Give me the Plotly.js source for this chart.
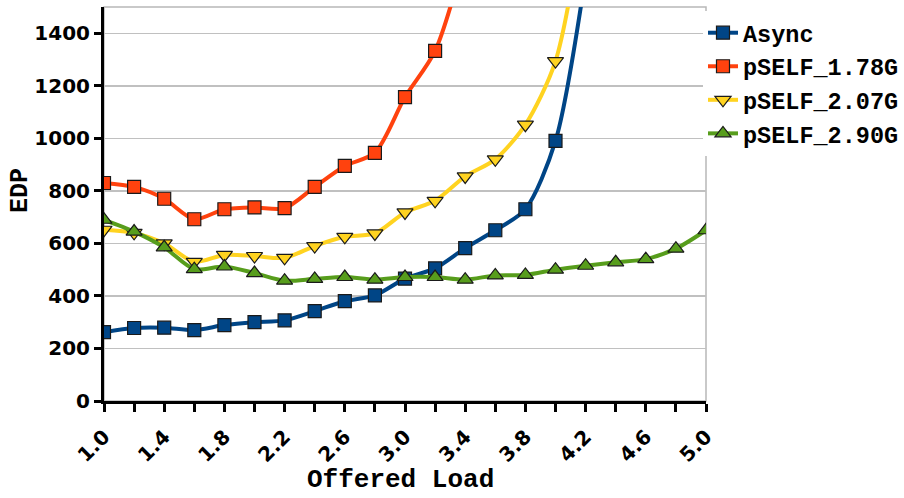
<!DOCTYPE html>
<html>
<head>
<meta charset="utf-8">
<script src="https://cdn.plot.ly/plotly-3.0.1.min.js"></script>
<style>html,body{margin:0;padding:0;background:#fff;}#chart{width:904px;height:498px;}</style>
</head>
<body>
<div id="chart"></div>
<script>
var load = [1.0,1.2,1.4,1.6,1.8,2.0,2.2,2.4,2.6,2.8,3.0,3.2,3.4,3.6,3.8,4.0,4.2,4.4,4.6,4.8,5.0];
var async = [262,278,279,270,289,300,307,342,380,402,466,505,582,650,730,990,1620];
var pself178 = [830,815,770,692,730,737,734,815,895,945,1157,1333,1700];
var pself207 = [652,640,600,530,556,552,545,590,625,638,718,762,855,920,1052,1294,1900];
var pself290 = [690,645,585,502,512,487,458,465,472,462,472,472,462,478,480,500,515,528,540,580,650];
var names = ['Async','pSELF_1.78G','pSELF_2.07G','pSELF_2.90G'];
var colors = ['#004586','#ff420e','#ffd320','#579d1c'];
var symbols = ['square','square','triangle-down','triangle-up'];
var series = [async, pself178, pself207, pself290];

var traces = series.map(function(s,i){
  return {
    x: load.slice(0, s.length), y: s, name: names[i], type:'scatter', mode:'lines+markers',
    line:{color:colors[i], width:4, shape:'spline', smoothing:0.8},
    marker:{symbol:symbols[i], size: symbols[i]==='square'?13:14, color:colors[i], line:{color:'#1a1a1a', width:1.2}}
  };
});

var tickFont = {family:'DejaVu Sans', size:20, color:'#000', weight:'bold'};
var titleFont = {family:'Liberation Mono', size:25, color:'#000', weight:'bold'};
var layout = {
  width:904, height:498,
  margin:{l:104, r:198, t:7, b:97, autoexpand:false},
  paper_bgcolor:'#fff', plot_bgcolor:'#fff',
  showlegend:true,
  legend:{x:0.995, xanchor:'left', y:0.99, yanchor:'top', font:{family:'Liberation Mono', size:23.5, color:'#000', weight:'bold'}, itemwidth:30, tracegroupgap:0},
  xaxis:{range:[1,5], tick0:1, dtick:0.4, tickformat:'.1f', tickangle:-45, ticks:'outside', ticklen:8, tickwidth:3, tickcolor:'#000',
    showline:true, linecolor:'#000', linewidth:3, showgrid:false, zeroline:false, tickfont:tickFont, ticklabelstandoff:5,
    minor:{dtick:0.2, tick0:1, ticks:'outside', ticklen:8, tickwidth:3, tickcolor:'#000', showgrid:false}},
  yaxis:{range:[0,1500], dtick:200, ticks:'outside', ticklen:7, tickwidth:3, tickcolor:'#000',
    showline:true, linecolor:'#000', linewidth:3, showgrid:true, gridcolor:'#c0c0c0', gridwidth:1.5, zeroline:false, tickfont:tickFont},
  shapes:[{type:'rect', xref:'paper', yref:'paper', x0:0, x1:1, y0:0, y1:1, line:{color:'#b8b8b8', width:1.5}, layer:'below'}],
  annotations:[
    {text:'EDP', xref:'paper', yref:'paper', x:-0.14, y:0.535, xanchor:'center', yanchor:'middle', textangle:-90, showarrow:false, font:titleFont},
    {text:'Offered Load', xref:'paper', yref:'paper', x:0.493, y:-0.244, xanchor:'center', yanchor:'bottom', showarrow:false,
      font:{family:'Liberation Mono', size:26, color:'#000', weight:'bold'}}
  ]
};
Plotly.newPlot('chart', traces, layout, {displayModeBar:false, staticPlot:true});
</script>
</body>
</html>
